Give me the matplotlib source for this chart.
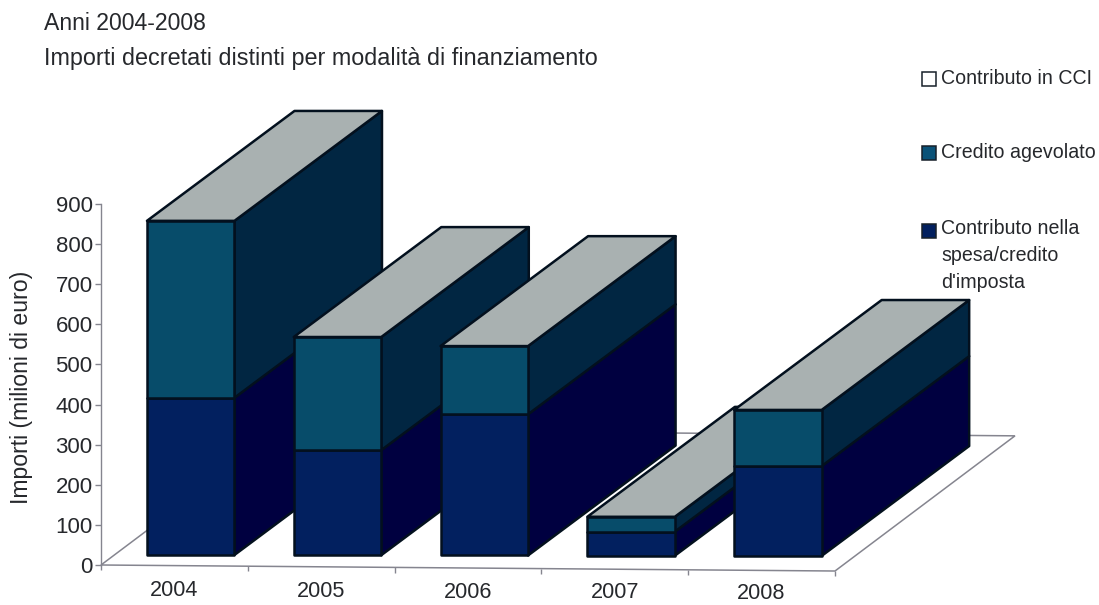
import matplotlib.pyplot as plt
import numpy as np

from matplotlib import patches

plt.rcParams["font.family"] = ["Liberation Sans", "DejaVu Sans"]

years = ["2004", "2005", "2006", "2007", "2008"]
contributo_spesa = [392, 262, 352, 60, 224]
credito_agevolato = [441, 282, 170, 37, 140]
contributo_cci = [0, 0, 0, 0, 0]
y_ticks = [0, 100, 200, 300, 400, 500, 600, 700, 800, 900]

W, H = 1099, 605
text_color = "#26282c"
edge_color = "#03101e"
floor_color = "#85858f"

series = [
    (contributo_spesa, "#02205f", "#000040"),
    (credito_agevolato, "#074c6a", "#012642"),
    (contributo_cci, "#ffffff", "#d8d8d8"),
]

fig = plt.figure(figsize=(W / 100, H / 100), dpi=100)
ax = fig.add_axes([101 / W, 1 - 565 / H, 734 / W, 361 / H])
ax.set_xlim(0, 5)
ax.set_ylim(0, 900)
ax.patch.set_alpha(0)

for side in ["top", "right", "bottom"]:
    ax.spines[side].set_visible(False)
ax.spines["left"].set_color(floor_color)
ax.spines["left"].set_linewidth(1)

ax.set_yticks(y_ticks)
ax.tick_params(axis="y", length=4, width=1, color=floor_color, pad=2,
               labelsize=16, labelcolor=text_color)
ax.set_xticks([])
ax.set_ylabel("Importi (milioni di euro)", fontsize=16.6, color=text_color)
ax.yaxis.set_label_coords(-0.093, 0.493)

# oblique projection: depth goes up and to the right
floor_depth = (1.226, 337)
bar_depth = (1.005, 274)
floor_tilt = 3.0


def floor_y(x):
    return -floor_tilt * x


###############################################################################
# Floor

front = [(0, floor_y(0)), (5, floor_y(5))]
back = [(x + floor_depth[0], y + floor_depth[1]) for x, y in reversed(front)]
ax.add_patch(patches.Polygon(front + back, closed=True, facecolor="white",
                             edgecolor=floor_color, linewidth=1.1,
                             clip_on=False, zorder=1))
for i in range(6):
    ax.plot([i, i], [floor_y(i), floor_y(i) - 13], color=floor_color,
            linewidth=1, clip_on=False, zorder=1, solid_capstyle="butt")

###############################################################################
# Bars, left to right so that each one hides the side of the previous one

bar_left = 0.313
bar_width = 0.596
bar_lift = 25


def face(points, color):
    ax.add_patch(patches.Polygon(points, closed=True, facecolor=color,
                                 edgecolor=edge_color, linewidth=1.8,
                                 joinstyle="round", clip_on=False, zorder=3))


dx, dy = bar_depth
for i in range(len(years)):
    x0 = i + bar_left
    x1 = x0 + bar_width
    bottom = bar_lift - 0.6 * i
    for values, front_color, side_color in series:
        top = bottom + values[i]
        if values[i] > 0:
            face([(x1, bottom), (x1 + dx, bottom + dy),
                  (x1 + dx, top + dy), (x1, top)], side_color)
            face([(x0, bottom), (x1, bottom), (x1, top), (x0, top)],
                 front_color)
        bottom = top
    face([(x0, bottom), (x1, bottom), (x1 + dx, bottom + dy),
          (x0 + dx, bottom + dy)], "#a9b1b1")

for i, year in enumerate(years):
    ax.text(i + 0.5, -64 - 1.6 * (i + 0.5), year, fontsize=15.6,
            color=text_color, ha="center", va="center")

###############################################################################
# Titles and legend

fig.text(44 / W, 1 - 24 / H, "Anni 2004-2008", fontsize=16.6,
         color=text_color, va="center")
fig.text(44 / W, 1 - 58 / H,
         "Importi decretati distinti per modalità di finanziamento",
         fontsize=16.8, color=text_color, va="center")

legend_labels = ["Contributo in CCI", "Credito agevolato",
                 "Contributo nella\nspesa/credito\nd'imposta"]
legend_colors = ["#ffffff", "#0a5278", "#02205f"]
legend_swatch_y = [79, 153, 231]
legend_text_y = [78, 153, 219]

for label, color, sy, ty in zip(legend_labels, legend_colors, legend_swatch_y,
                                legend_text_y):
    fig.add_artist(patches.Rectangle(
        (922 / W, 1 - (sy + 7) / H), 14 / W, 14 / H, facecolor=color,
        edgecolor="#17202a", linewidth=1.1, transform=fig.transFigure))
    fig.text(941 / W, 1 - ty / H, label, fontsize=14.1, color=text_color,
             va="top" if "\n" in label else "center", linespacing=1.52)

fig.savefig("out.png", dpi=100)
